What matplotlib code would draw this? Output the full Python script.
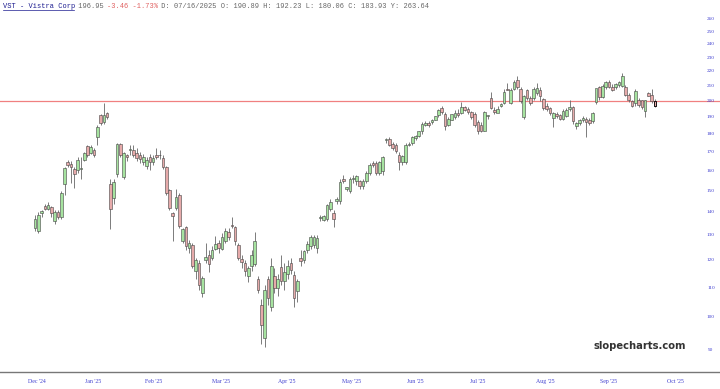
import numpy as np
import matplotlib
matplotlib.use("Agg")
import matplotlib.pyplot as plt
import matplotlib.transforms as mtransforms
from matplotlib.ticker import FixedLocator, NullLocator

# daily candles (Dec '24 -> late Sep '25)
opens = [133, 132, 139.5, 143, 141.5, 142.5, 136, 140, 138, 153.5,
         164.5, 163.5, 161, 160.5, 161, 165.8, 173, 169.5, 171, 178,
         191, 187, 192.5,
         153.5, 146.5, 158.5, 174.5, 157, 168, 171, 171, 169.5, 168,
         164.5, 162.5, 167, 164.5, 168.5, 168, 166.5, 162, 150.5, 139.5,
         142, 148, 127.5, 133.5, 125,
         126, 116, 119, 108,
         120, 122, 121, 124.5, 127, 124.5, 127.5, 131.5, 134.5, 133.5,
         126, 120.5, 119, 114, 118, 118.8, 113, 104, 93.5, 113,
         103.5, 114, 110, 117.5, 112.5, 115, 119, 114.5, 108.8,
         121, 120, 124, 125.5, 126, 125,
         137.5, 136.5, 137, 141.5, 139.8, 145, 145, 156, 151, 150,
         156, 155, 154.6, 152.3, 155, 159, 164, 164, 159, 160,
         176.5, 177, 174.5, 173.5, 168.5, 164.5, 164.5, 173.8, 175, 177.5,
         178.9, 181.5, 185.3, 186.5, 187, 188.5, 191, 195.5, 192, 185.5,
         188.5, 190, 192.5, 192.5, 196, 195, 193, 192, 187, 185.5,
         182, 190.5,
         202, 194.5, 192.5, 197, 199, 208, 199, 208, 213.8, 208,
         190, 207, 202, 202, 205, 207, 201.5, 197, 195.5, 189.5,
         192, 191, 189, 190.5, 195, 196, 184.5, 186.5, 188, 189,
         188.5, 187.5, 199.4, 209, 202.6, 209, 212.5, 209, 209, 210.5,
         210, 209, 204, 200, 198.5, 201, 200.5, 194, 205, 204,
         200]
highs = [139, 140, 141, 144, 144.5, 143, 141, 141, 150, 162,
         165.5, 165, 162, 167, 167, 170, 174, 174, 172, 185,
         192, 199, 193,
         155.6, 156, 175, 175, 170, 169, 174, 174, 172, 170,
         169, 167, 169, 168, 172, 171, 168, 162.5, 151, 140,
         151, 149, 133, 134, 128,
         127, 121, 120, 114,
         127, 124, 125.5, 129.7, 128, 131, 133, 133, 138, 134,
         127, 122, 120, 118, 124, 131.5, 114, 106, 111, 114,
         121, 117, 115, 122, 119, 120, 121, 116, 113,
         124, 124, 127.5, 130, 130, 130,
         139, 139, 144, 146, 141, 147, 156, 158, 152, 157,
         158, 158, 155.5, 156, 160, 164, 165, 165, 165, 167.5,
         177.5, 178, 175.5, 175, 170, 168, 175, 175.5, 179, 179.5,
         182, 187, 187.5, 187.5, 189, 190.5, 195, 197, 193, 190,
         192, 194.5, 195, 199.5, 197, 196, 194, 193, 188, 187,
         194, 191.5,
         206, 196, 197, 199, 208, 212, 208.5, 214, 216.6, 209,
         204, 208, 203.5, 209, 212, 209, 202, 198.5, 196.5, 193,
         193, 192, 195, 195.5, 200.5, 197, 187, 189, 190.5, 190,
         189.5, 193, 208, 210, 211, 213, 214, 211, 212, 213.5,
         219, 210.5, 205, 201, 208, 202, 201, 201, 206, 208,
         201.5]
lows = [132, 131, 138, 141, 141, 138, 135, 137, 137, 148,
        162, 154, 151.5, 159, 155.6, 165, 167, 169, 167, 174,
        185, 186, 189,
        132.7, 144, 157, 167, 156, 165, 168, 167, 165, 164,
        163, 161, 160.6, 163, 166, 166, 161, 148, 141, 127.5,
        141, 133, 127, 124, 123,
        117, 113, 109, 106.8,
        119, 115.8, 120, 124, 122.7, 124, 127, 128, 133, 126,
        120, 117, 114, 112, 116, 118, 108, 91.9, 90.8, 104,
        102, 108, 107, 111, 109, 113, 115, 103.5, 105,
        117.8, 119, 123, 124.5, 125, 123,
        136, 136, 136, 140.5, 133.5, 144, 144, 154, 150, 149,
        154, 153, 150.7, 151, 154, 158, 162, 158, 158, 158,
        175, 173, 171, 169.5, 160.6, 163, 163.5, 173, 174, 176.5,
        178, 180, 184.5, 184, 186, 188, 190, 192, 182.5, 184.5,
        188, 189, 190, 192, 194, 192, 189, 184, 180, 181,
        181.5, 189,
        195, 192, 193, 196, 198, 207, 198, 207, 208, 199,
        189, 201, 197.5, 201, 204, 200, 194.5, 193.5, 191, 184,
        189.5, 188, 188, 190, 194, 186, 183, 185, 187, 178.5,
        185.5, 186.5, 198, 201, 202, 208, 208.5, 206.5, 208, 209.5,
        209, 203, 199.5, 196, 197, 196, 195, 190, 203, 199,
        196]
closes = [137, 139, 140.5, 141.5, 143.5, 139.5, 140, 138, 149, 161.5,
          163, 162, 158.5, 165.5, 161.2, 169.4, 168, 172.5, 168.5, 184,
          186.5, 191, 190,
          141.5, 154.5, 174.5, 168, 169.5, 167, 171.2, 168.5, 166.5, 166,
          167, 165.5, 164.5, 166.5, 167, 168.2, 162, 149, 142, 138.5,
          147, 134, 132.5, 125.5, 127,
          118, 120, 111, 113.5,
          121.5, 118.5, 124, 126.5, 125, 129.5, 132, 129.5, 134, 127.5,
          121, 119.5, 116, 117, 122, 127.5, 109, 97.5, 109, 106.5,
          118, 110, 113, 112.5, 115.8, 118, 116.5, 106.5, 112.5,
          119.8, 123.5, 126.6, 129.2, 129.5, 129,
          137.8, 138.5, 143.5, 144.5, 137, 146, 154.5, 155, 151.8, 156,
          156.2, 157.5, 152.3, 154.6, 159, 163, 163, 159, 164.5, 167,
          177.3, 173.5, 172, 170.5, 164.5, 167.5, 174, 174.5, 178, 178.8,
          181.5, 186, 186.5, 185.3, 188.5, 190.5, 194.5, 193, 184.5, 189,
          192, 192.5, 191, 196, 194.5, 193, 190, 185.5, 182, 182,
          193, 191,
          195.6, 193, 195, 198, 206, 207, 207, 212.5, 209, 200,
          203, 202, 198.5, 208, 208.5, 203, 195.7, 195, 192.4, 192.4,
          190.5, 189, 194, 194.5, 196.5, 187.5, 186.5, 188.5, 189.5, 187,
          186.5, 192.5, 208.5, 202.6, 210, 212.5, 209.5, 207.2, 211.5, 212.5,
          216.5, 204, 201, 197, 206.5, 197.5, 196, 200.5, 203.5, 200,
          196.95]

month_labels = ["Dec '24", "Jan '25", "Feb '25", "Mar '25", "Apr '25", "May '25",
                "Jun '25", "Jul '25", "Aug '25", "Sep '25", "Oct '25"]
month_pos = [0.6, 17.8, 36.2, 56.7, 76.6, 96.5, 115.8, 135.1, 155.7, 174.7, 195.2]
price_ticks = list(range(90, 270, 10))
ref_level = 200

opens = np.array(opens, dtype=float)
highs = np.array(highs, dtype=float)
lows = np.array(lows, dtype=float)
closes = np.array(closes, dtype=float)
idx = np.arange(len(closes))

fig = plt.figure(figsize=(7.2, 3.89), dpi=100)
ax = fig.add_axes([0, 1 - 372 / 389, 1, (372 - 11) / 389])

up = closes >= opens
green = "#a6e3a0"
pink = "#e6aaaa"

ax.vlines(idx, lows, highs, color="#666666", linewidth=0.6, zorder=2)
bottoms = np.minimum(opens, closes)
heights = np.maximum(np.abs(closes - opens), 0.25)
ax.bar(idx[up], heights[up], bottom=bottoms[up], width=0.8,
       color=green, edgecolor="#444444", linewidth=0.4, zorder=3)
ax.bar(idx[~up], heights[~up], bottom=bottoms[~up], width=0.8,
       color=pink, edgecolor="#444444", linewidth=0.4, zorder=3)
# last candle has a dark outline
ax.bar(idx[-1:], heights[-1:], bottom=bottoms[-1:], width=0.8,
       color=pink, edgecolor="black", linewidth=0.6, zorder=4)

ax.axhline(ref_level, color="#f08080", linewidth=0.9, zorder=1)

ax.set_yscale("log")
ax.set_ylim(83.9, 267)
ppx = 620 / (len(closes) - 1)
ax.set_xlim(-35 / ppx, (720 - 35) / ppx)

# price labels sit inside the plot on the right
ax.yaxis.set_major_locator(NullLocator())
ax.yaxis.set_minor_locator(NullLocator())
lab_tr = mtransforms.blended_transform_factory(mtransforms.IdentityTransform(), ax.transData)
for v in price_ticks:
    ax.text(711, v, str(v), transform=lab_tr, ha="center", va="center",
            fontsize=3.8, color="#4040d0", family="Liberation Serif")

ax.xaxis.set_major_locator(FixedLocator(month_pos))
ax.set_xticklabels(month_labels, fontsize=4.2, color="#4040d0",
                   family="Liberation Serif")
ax.tick_params(axis="x", length=0, pad=5)

for s in ["top", "left", "right"]:
    ax.spines[s].set_visible(False)
ax.spines["bottom"].set_color("#777777")
ax.spines["bottom"].set_linewidth(1.0)

# header line
fs = 5.0
cw = 0.6 * fs * 100 / 72
segs = [("VST - Vistra Corp", "#1b1b8f"), (" 196.95 ", "#666666"),
        ("-3.46 -1.73%", "#e06060"),
        (" D: 07/16/2025 O: 190.89 H: 192.23 L: 180.06 C: 183.93 Y: 263.64", "#666666")]
pos = 3.0
for s, c in segs:
    fig.text(pos / 720, 1 - 6 / 389, s, fontsize=fs, color=c,
             family="Liberation Mono", va="center", ha="left")
    pos += len(s) * cw
ul = 17 * cw
fig.add_artist(plt.Line2D([3 / 720, (3 + ul) / 720], [1 - 9.5 / 389, 1 - 9.5 / 389],
                          color="#1b1b8f", linewidth=0.5))

fig.text(686 / 720, 1 - 346 / 389, "slopecharts.com", fontsize=7.2,
         fontweight="bold", color="#333333", ha="right", va="center")

fig.savefig("out.png", dpi=100)
